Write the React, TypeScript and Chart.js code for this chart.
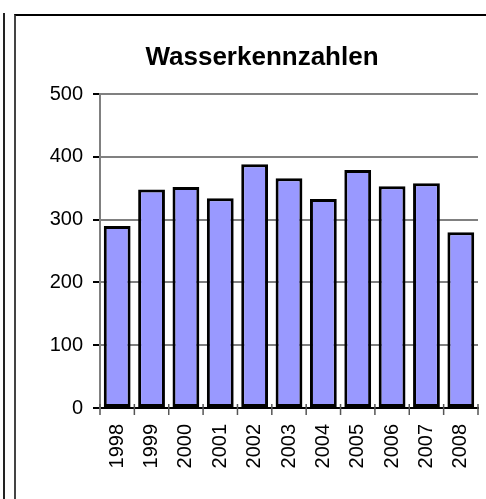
import React, { useEffect, useRef } from "react";
import { Chart, registerables } from "chart.js";

Chart.register(...registerables);

const categories = ["1998", "1999", "2000", "2001", "2002", "2003", "2004", "2005", "2006", "2007", "2008"];
const values = [290, 348, 352, 334, 388, 366, 333, 379, 353, 358, 280];
const yTicks = [0, 100, 200, 300, 400, 500];
const titleText = "Wasserkennzahlen";

const FONT = "'Liberation Sans', Arial, sans-serif";

export default function App() {
  const ref = useRef<HTMLCanvasElement | null>(null);
  useEffect(() => {
    if (!ref.current) return;
    const titlePlugin = {
      id: "customTitle",
      afterDraw(chart: any) {
        const ctx = chart.ctx;
        ctx.save();
        ctx.font = `bold 26px ${FONT}`;
        ctx.fillStyle = "#000";
        ctx.textAlign = "center";
        ctx.textBaseline = "middle";
        ctx.fillText(titleText, 262, 58);
        ctx.restore();
      },
    };
    const chart = new Chart(ref.current, {
      type: "bar",
      data: {
        labels: categories,
        datasets: [
          {
            data: values,
            backgroundColor: "#9999FF",
            borderColor: "#000000",
            borderWidth: 3,
            borderSkipped: false,
            categoryPercentage: 0.78,
            barPercentage: 1,
          },
        ],
      },
      options: {
        animation: false,
        responsive: false,
        maintainAspectRatio: false,
        layout: { padding: { top: 94, right: 8, left: 0, bottom: 0 } },
        plugins: { legend: { display: false }, tooltip: { enabled: false }, title: { display: false } },
        scales: {
          x: {
            grid: { display: false, drawTicks: false },
            border: { display: true, color: "#000", width: 2 },
            ticks: {
              color: "#000",
              font: { family: FONT, size: 20 },
              maxRotation: 90,
              minRotation: 90,
              padding: 16,
            },
            afterFit(scale: any) {
              scale.height = 91;
              scale.paddingLeft = 0;
              scale.paddingRight = 0;
            },
          },
          y: {
            min: 0,
            max: 500,
            afterBuildTicks(scale: any) {
              scale.ticks = yTicks.map((v) => ({ value: v }));
            },
            grid: { color: "#808080", lineWidth: 2, tickLength: 7, tickColor: "#000" },
            border: { display: true, color: "#808080", width: 2 },
            ticks: { color: "#000", font: { family: FONT, size: 20 }, padding: 10 },
            afterFit(scale: any) {
              scale.width = 100;
              scale.paddingTop = 0;
              scale.paddingBottom = 0;
            },
          },
        },
      },
      plugins: [
        titlePlugin,
        {
          id: "xTicks",
          afterDraw(chart: any) {
            const ctx = chart.ctx;
            const xs = chart.scales.x;
            const area = chart.chartArea;
            ctx.save();
            ctx.strokeStyle = "#555";
            ctx.lineWidth = 1.5;
            const n = categories.length;
            for (let i = 0; i <= n; i++) {
              const x = xs.left + ((xs.right - xs.left) * i) / n;
              ctx.beginPath();
              ctx.moveTo(x, area.bottom - 4);
              ctx.lineTo(x, area.bottom + 7);
              ctx.stroke();
            }
            ctx.restore();
          },
        },
      ],
    });
    return () => chart.destroy();
  }, []);
  return (
    <div style={{ position: "absolute", left: 0, top: 0, width: 486, height: 499, background: "#fff", overflow: "hidden" }}>
      <div style={{ position: "absolute", left: 3, top: 13, width: 2, height: 500, background: "#222" }} />
      <div style={{ position: "absolute", left: 14, top: 14, width: 480, height: 490, borderLeft: "2px solid #444", borderTop: "2px solid #000" }} />
      <canvas ref={ref} width={486} height={499} style={{ position: "absolute", left: 0, top: 0 }} />
    </div>
  );
}
